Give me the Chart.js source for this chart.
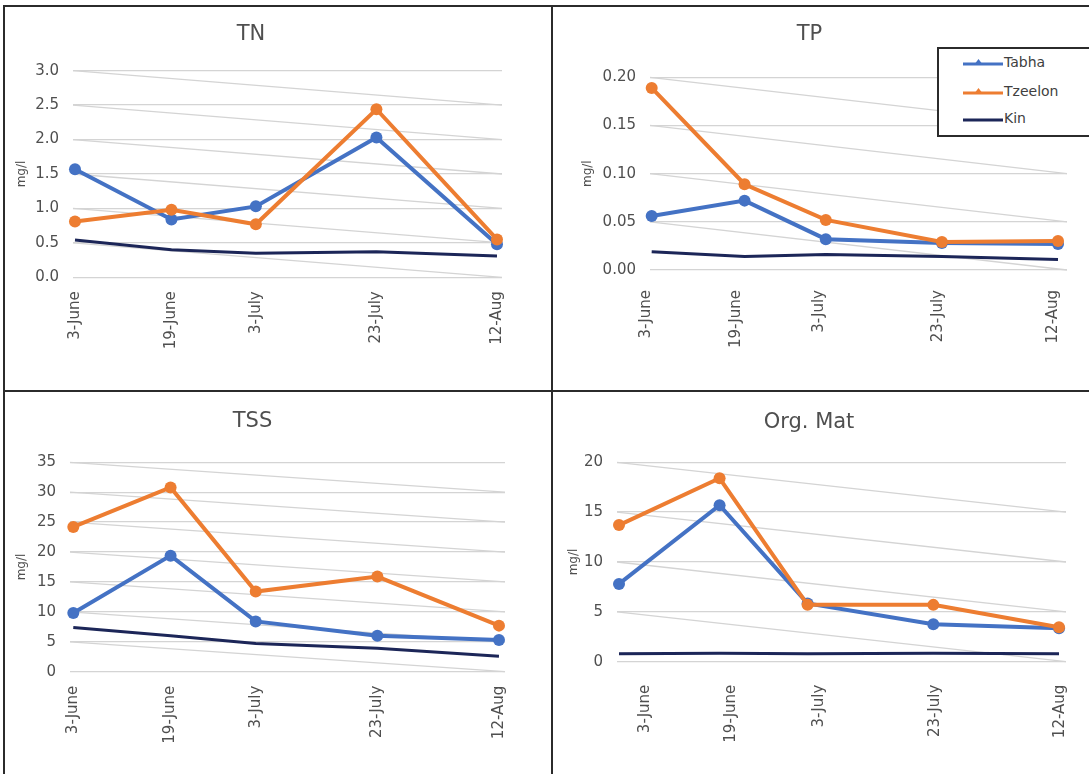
<!DOCTYPE html>
<html>
<head>
<meta charset="utf-8">
<script src="https://cdn.jsdelivr.net/npm/chart.js@4.4.1/dist/chart.umd.min.js"></script>
<style>
  html, body { margin: 0; padding: 0; background: #ffffff; }
  body { width: 1089px; height: 774px; position: relative; overflow: hidden; font-family: 'DejaVu Sans', sans-serif; }
  canvas { position: absolute; }
  .rule { position: absolute; background: #2b2b2b; }
  #legend { position: absolute; left: 937px; top: 47px; width: 170px; height: 86px; border: 2px solid #2b2b2b; background: #ffffff; z-index: 5; }
  #legend .row { position: absolute; left: 24px; height: 20px; display: flex; align-items: center; }
  #legend .row span { font-size: 14px; color: #404040; margin-left: 1px; }
</style>
</head>
<body>
<canvas id="tn" width="524" height="391" style="left:0px;top:0px"></canvas>
<canvas id="tp" width="530" height="391" style="left:552px;top:0px"></canvas>
<canvas id="tss" width="524" height="383" style="left:0px;top:391px"></canvas>
<canvas id="om" width="532" height="383" style="left:552px;top:391px"></canvas>

<div class="rule" style="left:3px;top:5px;width:1086px;height:2px"></div>
<div class="rule" style="left:3px;top:5px;width:2px;height:769px"></div>
<div class="rule" style="left:551px;top:5px;width:2px;height:769px"></div>
<div class="rule" style="left:3px;top:390px;width:1086px;height:2px"></div>

<div id="legend"></div>

<script>
// Sampling dates and their offsets (days after 3 June)
const dateLabels = ['3-June', '19-June', '3-July', '23-July', '12-Aug'];
const sampleDays = [0, 16, 30, 50, 70];

const seriesNames = ['Tabha', 'Tzeelon', 'Kin'];
const seriesColors = ['#4472C4', '#ED7D31', '#1C2658'];

// Total nitrogen (mg/l)
const tnTabha   = [1.57, 0.84, 1.03, 2.03, 0.48];
const tnTzeelon = [0.81, 0.98, 0.77, 2.44, 0.55];
const tnKin     = [0.54, 0.40, 0.35, 0.37, 0.31];

// Total phosphorus (mg/l)
const tpTabha   = [0.056, 0.072, 0.032, 0.028, 0.027];
const tpTzeelon = [0.189, 0.089, 0.052, 0.029, 0.030];
const tpKin     = [0.019, 0.014, 0.016, 0.014, 0.011];

// Total suspended solids (mg/l)
const tssTabha   = [9.8, 19.4, 8.4, 6.0, 5.3];
const tssTzeelon = [24.2, 30.8, 13.4, 15.9, 7.7];
const tssKin     = [7.4, 6.0, 4.7, 3.9, 2.6];

// Organic matter (mg/l)
const omTabha   = [7.8, 15.7, 5.85, 3.75, 3.35];
const omTzeelon = [13.7, 18.4, 5.7, 5.7, 3.45];
const omKin     = [0.8, 0.85, 0.8, 0.85, 0.8];

// Y-axis tick settings
const tnTicks  = { max: 3, step: 0.5, decimals: 1 };
const tpTicks  = { max: 0.2, step: 0.05, decimals: 2 };
const tssTicks = { max: 35, step: 5, decimals: 0 };
const omTicks  = { max: 20, step: 5, decimals: 0 };

const TEXT = '#4f4f4f';
const GRID = '#d4d4d4';
Chart.defaults.font.family = "'DejaVu Sans', sans-serif";
Chart.defaults.color = TEXT;

// Light slanted guide lines running from each gridline down to the next one
const slantGrid = {
  id: 'slantGrid',
  beforeDatasetsDraw(chart) {
    const y = chart.scales.y;
    const { left, right } = chart.chartArea;
    const vals = y.ticks.map(t => t.value);
    const ctx = chart.ctx;
    ctx.save();
    ctx.strokeStyle = GRID;
    ctx.lineWidth = 1.3;
    for (let i = 1; i < vals.length; i++) {
      ctx.beginPath();
      ctx.moveTo(left, y.getPixelForValue(vals[i]));
      ctx.lineTo(right, y.getPixelForValue(vals[i - 1]));
      ctx.stroke();
    }
    ctx.restore();
  }
};

const panels = [
  { id: 'tn', title: 'TN', series: [tnTabha, tnTzeelon, tnKin], ticks: tnTicks,
    xMin: -0.33, xMax: 70.83, padRight: 22, titlePad: { top: 22.4, bottom: 23.1 },
    yWidth: 73, xHeight: 113.7, yTitleOffset: 14.8, xPad: 6, labelShift: [0, 0, 0, 0, 0] },
  { id: 'tp', title: 'TP', series: [tpTabha, tpTzeelon, tpKin], ticks: tpTicks,
    xMin: -0.29, xMax: 71.55, padRight: 15, titlePad: { top: 22.4, bottom: 29.7 },
    yWidth: 98, xHeight: 121, yTitleOffset: 28.8, xPad: 12, labelShift: [-1.0, -1.4, -1.15, -0.7, -0.85] },
  { id: 'tss', title: 'TSS', series: [tssTabha, tssTzeelon, tssKin], ticks: tssTicks,
    xMin: -0.54, xMax: 70.99, padRight: 19, titlePad: { top: 18.1, bottom: 28 },
    yWidth: 70, xHeight: 102.3, yTitleOffset: 14.8, xPad: 6, labelShift: [0, 0, 0, 0, 0] },
  { id: 'om', title: 'Org. Mat', series: [omTabha, omTzeelon, omKin], ticks: omTicks,
    xMin: -0.32, xMax: 71.11, padRight: 18, titlePad: { top: 18.7, bottom: 27.4 },
    yWidth: 65, xHeight: 112.3, yTitleOffset: 14.8, xPad: 15, labelShift: [4.1, 1.9, 1.9, 0.3, 0.2] }
];

panels.forEach(p => {
  const datasets = p.series.map((vals, s) => ({
    label: seriesNames[s],
    data: sampleDays.map((d, i) => ({ x: d, y: vals[i] })),
    borderColor: seriesColors[s],
    backgroundColor: seriesColors[s],
    borderWidth: s === 2 ? 3 : 4,
    pointRadius: s === 2 ? 0 : 6,
    pointBorderWidth: 0,
    pointBackgroundColor: seriesColors[s],
    tension: 0,
    clip: false,
    order: s === 1 ? 0 : (s === 0 ? 1 : 2)
  }));

  new Chart(document.getElementById(p.id), {
    type: 'line',
    data: { datasets },
    plugins: [slantGrid],
    options: {
      responsive: false,
      animation: false,
      events: [],
      layout: { padding: { left: 0, top: 0, right: p.padRight, bottom: 0 } },
      plugins: {
        legend: { display: false },
        tooltip: { enabled: false },
        title: {
          display: true, text: p.title, color: TEXT,
          font: { size: 21, weight: 'normal', lineHeight: 1.2 },
          padding: p.titlePad
        }
      },
      scales: {
        x: {
          type: 'linear', min: p.xMin, max: p.xMax,
          grid: { display: false }, border: { display: false },
          afterBuildTicks(axis) {
            axis.ticks = sampleDays.map((d, i) => ({ value: d + p.labelShift[i] }));
          },
          afterFit(axis) {
            axis.height = p.xHeight;
            axis.paddingLeft = 0;
            axis.paddingRight = 0;
          },
          ticks: {
            autoSkip: false, minRotation: 90, maxRotation: 90, padding: p.xPad,
            font: { size: 15 }, color: TEXT,
            callback: (v, i) => dateLabels[i]
          }
        },
        y: {
          type: 'linear', min: 0, max: p.ticks.max,
          border: { display: false },
          grid: { color: GRID, lineWidth: 1.3, drawTicks: false },
          afterFit(axis) { axis.width = p.yWidth; },
          ticks: {
            stepSize: p.ticks.step, padding: 14, font: { size: 15 }, color: TEXT,
            callback: v => Number(v).toFixed(p.ticks.decimals)
          },
          title: {
            display: true, text: 'mg/l', color: TEXT, font: { size: 12 },
            padding: { top: p.yTitleOffset, bottom: 0 }
          }
        }
      }
    }
  });
});

// Shared legend box
const legend = document.getElementById('legend');
const rowTops = [3, 32, 59];
seriesNames.forEach((name, s) => {
  const row = document.createElement('div');
  row.className = 'row';
  row.style.top = rowTops[s] + 'px';
  const marker = s === 2 ? '' :
    `<polygon points="15.5,2 20,8 11,8" fill="${seriesColors[s]}"/>`;
  row.innerHTML =
    `<svg width="40" height="10" viewBox="0 0 40 10">` +
    `<line x1="0" y1="7" x2="40" y2="7" stroke="${seriesColors[s]}" stroke-width="3"/>${marker}</svg>` +
    `<span>${name}</span>`;
  legend.appendChild(row);
});
</script>
</body>
</html>
